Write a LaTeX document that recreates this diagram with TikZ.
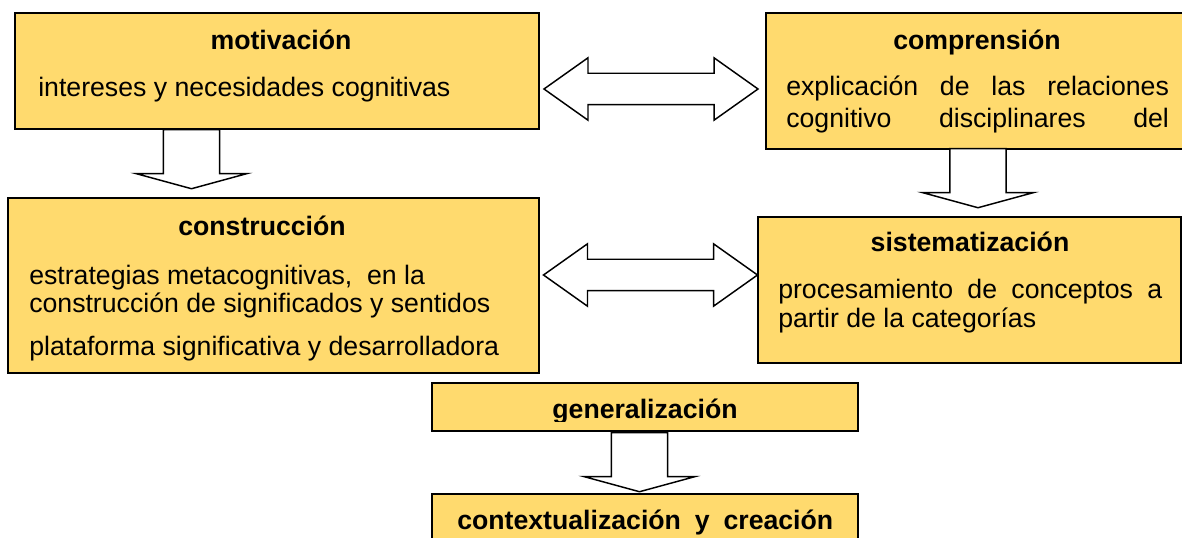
\documentclass[tikz,border=0pt]{standalone}
\usepackage{fontspec}
\setmainfont{Liberation Sans}
\usetikzlibrary{shapes.arrows}
\definecolor{stagefill}{RGB}{255,218,110}
\tikzset{
	stage/.style={draw, fill=stagefill, line width=1.5pt, inner sep=0pt},
	ttl/.style={font=\fontsize{20}{24}\selectfont\bfseries, inner sep=0pt},
	txt/.style={font=\fontsize{20}{24}\selectfont, inner sep=0pt},
	sidearrow/.style={double arrow, draw, fill=white, line width=1.1pt, inner sep=0pt, inner ysep=11.25pt,
		minimum height=160.5pt, minimum width=45.75pt, double arrow head extend=11.6pt, double arrow tip angle=70.7},
	downarrow/.style={single arrow, draw, fill=white, line width=1.1pt, inner sep=0pt, inner ysep=20.6pt,
		minimum height=44.25pt, minimum width=82.5pt, single arrow head extend=20.6pt, single arrow tip angle=149.5,
		rotate=-90, anchor=tail}
}
\begin{document}
\begin{tikzpicture}[x=0.75pt,y=-0.75pt]
				\useasboundingbox (0,0) rectangle (1182,538);
				
				\node[stage, minimum width=393pt, minimum height=87pt] (mot) at (277,71) {};
				\node[stage, minimum width=318pt, minimum height=102pt] (comp) at (978,81) {};
				\node[stage, minimum width=398.25pt, minimum height=131.25pt] (cons) at (273.5,285.5) {};
				\node[stage, minimum width=317.25pt, minimum height=109.5pt] (sist) at (969,290) {};
				\node[stage, minimum width=319.5pt, minimum height=36pt] (gen) at (645,407) {};
				\node[stage, minimum width=319.5pt, minimum height=40.5pt] (ctx) at (645,521) {};
				
				\node[ttl, anchor=base] (motT) at (281,50) {motivación};
				\node[txt, anchor=base west] (motB) at (38,97) {intereses y necesidades cognitivas};
				\node[ttl, anchor=base] (compT) at (977,50) {comprensión};
				\node[txt, anchor=base west] (compA) at (786,96) {\makebox[287pt][s]{explicación de las relaciones}};
				\node[txt, anchor=base west] (compB) at (786,128) {\makebox[287pt][s]{cognitivo disciplinares del}};
				\node[ttl, anchor=base] (consT) at (262,236) {construcción};
				\node[txt, anchor=base west] (consA) at (29,285) {estrategias metacognitivas,\ \ en la};
				\node[txt, anchor=base west] (consB) at (29,313) {construcción de significados y sentidos};
				\begin{scope}
					\clip (20,330) rectangle (530,361);
					\node[txt, anchor=base west] (consC) at (29,355) {plataforma significativa y desarrolladora};
				\end{scope}
				\node[ttl, anchor=base] (sistT) at (970,252) {sistematización};
				\node[txt, anchor=base west] (sistA) at (778,299) {\makebox[288pt][s]{procesamiento de conceptos a}};
				\node[txt, anchor=base west] (sistB) at (778,328) {partir de la categorías};
				\begin{scope}
					\clip (440,390) rectangle (850,421);
					\node[ttl, anchor=base] (genT) at (645,418) {generalización};
				\end{scope}
				\node[ttl, anchor=base west] (ctxT) at (457,529) {\makebox[282pt][s]{contextualización y creación}};
				
				\node[sidearrow] (motcomp) at (651,89) {};
				\node[sidearrow] (conssist) at (650.5,275) {};
				\node[downarrow] (motcons) at (191.5,129) {};
				\node[downarrow] (compsist) at (978,148) {};
				\node[downarrow] (genctx) at (639.5,432) {};
			\end{tikzpicture}
\end{document}
